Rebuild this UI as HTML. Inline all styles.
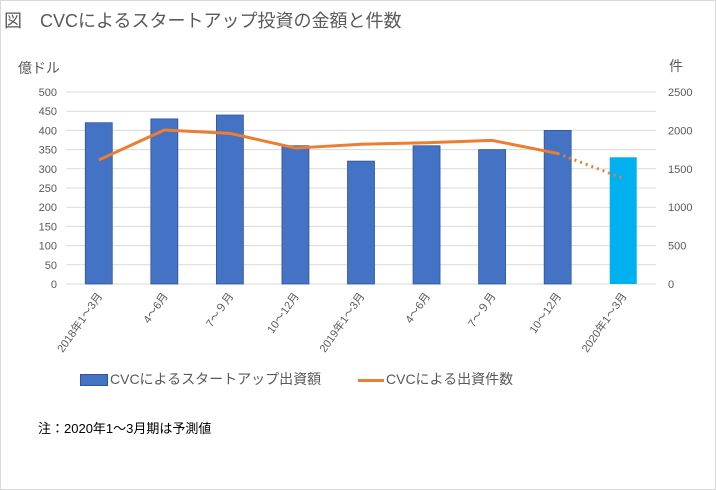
<!DOCTYPE html>
<html><head><meta charset="utf-8">
<style>
body{margin:0;background:#fff;}
#wrap{position:relative;width:714px;height:488px;border:1px solid #d9d9d9;overflow:hidden;font-family:"Liberation Sans","Noto Sans CJK JP",sans-serif;color:#595959;}
.t{position:absolute;white-space:nowrap;}
</style></head><body>
<div id="wrap">
<div class="t" style="left:3px;top:6px;font-size:18px;">図　CVCによるスタートアップ投資の金額と件数</div>
<div class="t" style="left:17px;top:57px;font-size:14px;">億ドル</div>
<div class="t" style="left:668px;top:55px;font-size:14px;">件</div>
<svg id="c" width="716" height="490" style="position:absolute;left:-1px;top:-1px;"></svg>
<div class="t" style="left:79px;top:368px;font-size:14px;"><span style="display:inline-block;width:26px;height:10px;background:#4472c4;border:1px solid #2f5597;vertical-align:middle;margin-right:2px"></span>CVCによるスタートアップ出資額</div>
<div class="t" style="left:357px;top:368px;font-size:14px;"><span style="display:inline-block;width:26px;height:3px;background:#ed7d31;vertical-align:middle;margin-right:2px"></span>CVCによる出資件数</div>
<div class="t" style="left:37px;top:417px;font-size:13px;color:#000;">注：2020年1〜3月期は予測値</div>
</div>
<script>
const categories=["2018年1～3月","4～6月","7～９月","10～12月","2019年1～3月","4～6月","7～９月","10～12月","2020年1～3月"];
const amounts=[420,430,440,360,320,360,350,400,330];
const counts=[1615,2005,1962,1770,1820,1840,1870,1700,1375];
const leftTicks=[0,50,100,150,200,250,300,350,400,450,500];
const rightTicks=[0,500,1000,1500,2000,2500];
const NS="http://www.w3.org/2000/svg";
const svg=document.getElementById('c');
const X0=66,X1=656,Y0=284,Y1=92;
const band=(X1-X0)/categories.length;
const xc=i=>X0+band*(i+0.5);
const yL=v=>Y0-(v/500)*(Y0-Y1);
const yR=v=>Y0-(v/2500)*(Y0-Y1);
function mk(t,a){const e=document.createElementNS(NS,t);for(const k in a)e.setAttribute(k,a[k]);svg.appendChild(e);return e;}
leftTicks.forEach(v=>{
 const g=mk('line',{x1:X0,x2:X1,y1:yL(v),y2:yL(v),stroke:'#d9d9d9','stroke-width':1});
 
 
 const t=mk('text',{x:57,y:yL(v)+4,'text-anchor':'end','font-size':11,fill:'#595959','font-family':'Liberation Sans, sans-serif'});
 t.textContent=v;
 
 
});
rightTicks.forEach(v=>{
 const t=mk('text',{x:668,y:yR(v)+4,'text-anchor':'start','font-size':11,fill:'#595959','font-family':'Liberation Sans, sans-serif'});
 t.textContent=v;
 
 
});
amounts.forEach((v,i)=>{
 const last=i===amounts.length-1;
 const r=mk('rect',{x:xc(i)-13.5,y:yL(v),width:27,height:Y0-yL(v),fill:last?'#00b0f0':'#4472c4',stroke:last?'none':'#2f5597','stroke-width':0.8});
 
 
 const g=mk('g',{transform:`translate(${xc(i)+4},${Y0+12}) rotate(-55)`});
 const t=document.createElementNS(NS,'text');
 t.setAttribute('text-anchor','end');t.setAttribute('font-size',11);t.setAttribute('fill','#595959');
 t.setAttribute('font-family','Liberation Sans, Noto Sans CJK JP, sans-serif');
 t.textContent=categories[i];
 
 
 g.appendChild(t);
});
const solid=counts.slice(0,counts.length-1).map((v,i)=>`${xc(i)},${yR(v)}`).join(' ');
const p=mk('polyline',{points:solid,fill:'none',stroke:'#ed7d31','stroke-width':3,'stroke-linejoin':'round'});


const n=counts.length;
const d=mk('line',{x1:xc(n-2),y1:yR(counts[n-2]),x2:xc(n-1),y2:yR(counts[n-1]),stroke:'#ed7d31','stroke-width':3,'stroke-dasharray':'2 4'});


</script>
</body></html>
